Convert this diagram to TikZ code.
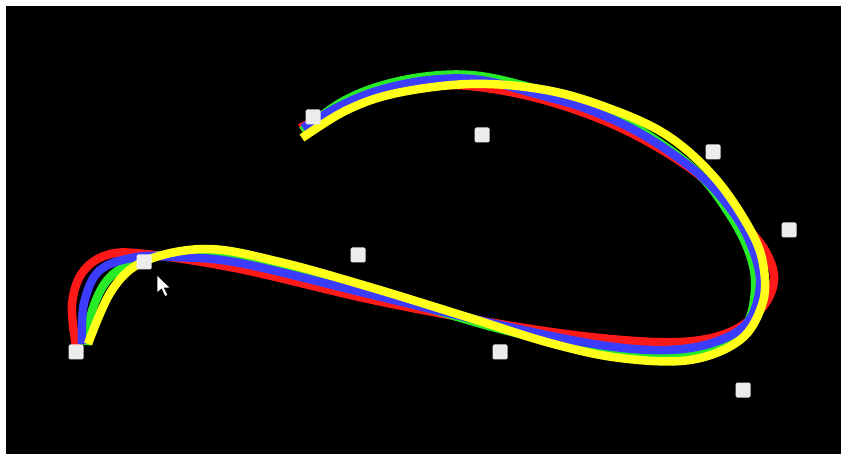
\documentclass[tikz,border=0pt]{standalone}
\usepackage{tikz}
\usetikzlibrary{positioning}
\definecolor{crvRed}{RGB}{255,25,25}
\definecolor{crvGreen}{RGB}{40,235,40}
\definecolor{crvBlue}{RGB}{60,60,255}
\definecolor{crvYellow}{RGB}{255,255,25}
\definecolor{knotGrey}{RGB}{236,236,236}

\begin{document}
\begin{tikzpicture}[x=1pt, y=-1pt,
  curve/.style={line width=8.5pt, line join=round},
  knot/.style={draw=none, fill=knotGrey, rounded corners=1.5pt,
               minimum size=15pt, inner sep=0pt},
  pointer/.style={fill=white, draw=black, line width=0.6pt, line join=miter}
]
%% Frame
\useasboundingbox (0,0) rectangle (841,454);
\fill[white] (0,0) rectangle (841,454);
\fill[black] (6,6) rectangle (841,454);
%% Curves
\draw[curve, crvRed] plot[smooth, tension=0.6] coordinates {
  (76,346) (72,305) (82,273) (107,255) (145,254) (240,269) (373,300)
  (500,324) (600,338) (680,342) (730,332) (762,308) (774,280) (766,252)
  (745,225) (705,180) (650,143) (590,115) (520,94) (450,85) (390,93)
  (347,106) (300,128)};
\draw[curve, crvGreen] plot[smooth, tension=0.6] coordinates {
  (86,345) (93,308) (110,277) (140,260) (173,255) (240,259) (373,292)
  (500,329) (600,350) (667,355) (712,347) (745,327) (755,290) (750,255)
  (730,215) (695,170) (640,130) (590,106) (540,90) (480,76) (430,76)
  (380,86) (340,103) (302,131)};
\draw[curve, crvBlue] plot[smooth, tension=0.6] coordinates {
  (82,344) (84,303) (100,270) (137,257) (173,257) (240,263) (373,295)
  (500,325) (600,345) (667,350) (715,342) (748,322) (760,285) (753,250)
  (735,215) (700,175) (645,136) (590,110) (540,95) (480,80) (430,80)
  (380,90) (340,106) (303,128)};
\draw[curve, crvYellow] plot[smooth, tension=0.6] coordinates {
  (88,344) (112,290) (145,261) (207,249) (280,262) (373,288) (467,317)
  (550,343) (620,358) (690,360) (740,340) (762,305) (764,270) (752,233)
  (715,178) (665,134) (600,105) (540,89) (470,84) (397,93) (347,110)
  (302,138)};
%% Control points
\foreach \name/\px/\py in {p0/76/352, p1/144/262, p2/358/255, p3/500/352,
    p4/743/390, p5/789/230, p6/713/152, p7/482/135, p8/313/117}
  \node[knot] (\name) at (\px,\py) {};
%% Mouse pointer
\draw[pointer] (157,275) -- ++(0,18) -- ++(4.5,-4) -- ++(3.5,7.5)
  -- ++(2.8,-1.3) -- ++(-3.5,-7.2) -- ++(6,0) -- cycle;
\end{tikzpicture}
\end{document}
